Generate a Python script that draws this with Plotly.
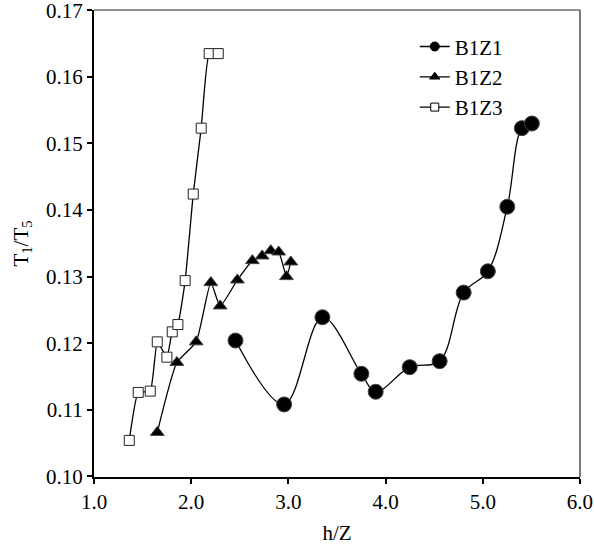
import plotly.graph_objects as go

# B1Z1 (filled circles)
b1z1_x = [2.456, 2.956, 3.350, 3.751, 3.898, 4.248, 4.556, 4.803, 5.052, 5.252, 5.402, 5.505]
b1z1_y = [0.1204, 0.1108, 0.1239, 0.1154, 0.1127, 0.1164, 0.1173, 0.1276, 0.1308, 0.1405, 0.1523, 0.1530]

# B1Z2 (filled triangles)
b1z2_x = [1.651, 1.853, 2.051, 2.202, 2.298, 2.475, 2.629, 2.730, 2.819, 2.900, 2.980, 3.025]
b1z2_y = [0.1066, 0.1171, 0.1202, 0.1291, 0.1256, 0.1295, 0.1324, 0.1331, 0.1339, 0.1337, 0.1300, 0.1322]

# B1Z3 (open squares)
b1z3_x = [1.363, 1.455, 1.579, 1.651, 1.750, 1.805, 1.863, 1.938, 2.021, 2.103, 2.185, 2.278]
b1z3_y = [0.1054, 0.1126, 0.1128, 0.1202, 0.1179, 0.1217, 0.1228, 0.1294, 0.1424, 0.1523, 0.1635, 0.1635]

x_ticks = [1.0, 2.0, 3.0, 4.0, 5.0, 6.0]
y_ticks = [0.10, 0.11, 0.12, 0.13, 0.14, 0.15, 0.16, 0.17]

FONT = "Times New Roman, Liberation Serif, Tinos, serif"
FS = 21

fig = go.Figure()

fig.add_trace(go.Scatter(
    x=b1z1_x, y=b1z1_y, mode="lines+markers", name="B1Z1", showlegend=False,
    line=dict(color="black", width=1.3, shape="spline", smoothing=1.0),
    marker=dict(symbol="circle", size=15, color="black", line=dict(color="#444", width=1)),
))
fig.add_trace(go.Scatter(
    x=b1z2_x, y=b1z2_y, mode="lines+markers", name="B1Z2", showlegend=False,
    line=dict(color="black", width=1.3, shape="spline", smoothing=0.5),
    marker=dict(symbol="triangle-up", size=12, color="black", line=dict(color="#444", width=1)),
))
fig.add_trace(go.Scatter(
    x=b1z3_x, y=b1z3_y, mode="lines+markers", name="B1Z3", showlegend=False,
    line=dict(color="black", width=1.3, shape="spline", smoothing=0.4),
    marker=dict(symbol="square", size=10, color="white", line=dict(color="#222", width=1)),
))

# legend entries (smaller markers as in the original)
for name, sym, col, sz in [("B1Z1", "circle", "black", 9),
                           ("B1Z2", "triangle-up", "black", 9),
                           ("B1Z3", "square", "white", 8)]:
    fig.add_trace(go.Scatter(
        x=[None], y=[None], mode="lines+markers", name=name,
        line=dict(color="black", width=1.3),
        marker=dict(symbol=sym, size=sz, color=col, line=dict(color="black", width=1)),
    ))

fig.update_layout(
    width=594, height=546,
    margin=dict(l=94, r=14, t=10, b=69, autoexpand=False),
    paper_bgcolor="white", plot_bgcolor="white",
    font=dict(family=FONT, size=FS, color="black"),
    showlegend=True,
    legend=dict(x=0.66, y=0.965, xanchor="left", yanchor="top",
                bgcolor="rgba(0,0,0,0)", font=dict(family=FONT, size=FS, color="black"),
                tracegroupgap=0),
    xaxis=dict(range=[1.0, 6.0001], tickvals=x_ticks, ticktext=[f"{v:.1f}" for v in x_ticks],
               showgrid=False, zeroline=False, showline=True, linecolor="black", linewidth=2,
               ticks="outside", ticklen=5, tickwidth=1.5, tickcolor="black",
               ticklabeloverflow="allow", automargin=False,
               tickfont=dict(family=FONT, size=FS, color="black"),
               title=dict(text="h/Z", standoff=12, font=dict(family=FONT, size=FS, color="black"))),
    yaxis=dict(range=[0.0999, 0.17005], tickvals=y_ticks, ticktext=[f"{v:.2f}" for v in y_ticks],
               showgrid=False, zeroline=False, showline=True, linecolor="black", linewidth=2,
               ticks="outside", ticklen=5, tickwidth=1.5, tickcolor="black",
               ticklabeloverflow="allow", automargin=False,
               tickfont=dict(family=FONT, size=FS, color="black"),
               title=dict(text="T<sub>1</sub>/T<sub>5</sub>", standoff=12,
                          font=dict(family=FONT, size=FS, color="black"))),
)

fig.add_shape(type="line", xref="paper", yref="paper", x0=0, x1=1, y0=1, y1=1,
              line=dict(color="#222", width=1.2))
fig.add_shape(type="line", xref="paper", yref="paper", x0=1, x1=1, y0=0, y1=1,
              line=dict(color="#222", width=1.2))

fig.write_html("out.html")
